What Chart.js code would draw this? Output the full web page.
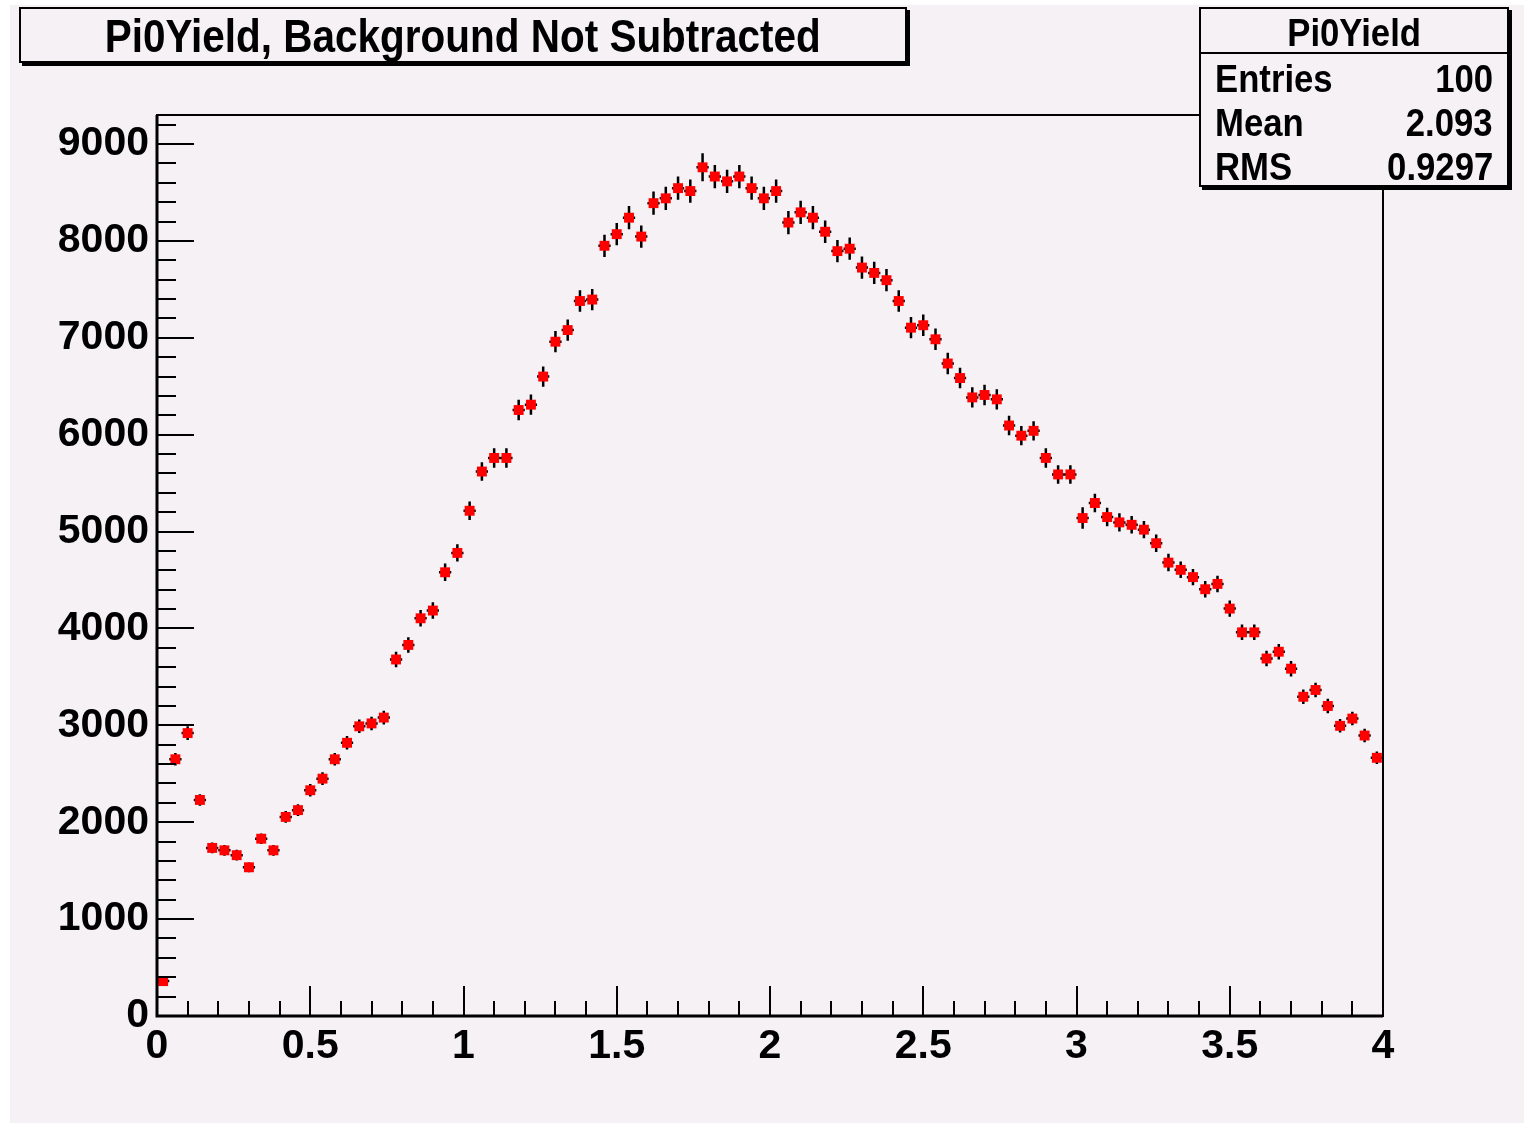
<!DOCTYPE html>
<html>
<head>
<meta charset="utf-8">
<script src="https://cdn.jsdelivr.net/npm/chart.js@4.4.1/dist/chart.umd.min.js"></script>
<style>
  body { margin: 0; background: #fff; font-family: "Liberation Sans", Arial, sans-serif; }
  #pad { position: absolute; left: 10px; top: 5px; width: 1514px; height: 1118px; background: #f5f1f5; }
  #title {
    position: absolute; left: 19px; top: 7px; width: 884px; height: 52px;
    border: 2px solid #000; box-shadow: 3px 3px 0 #000; background: #f5f1f5;
    font-weight: bold; font-size: 46px; line-height: 54px; text-align: center; white-space: nowrap;
  }
  #title span { display: inline-block; transform: scaleX(0.88); }
  #stats {
    position: absolute; left: 1199px; top: 7px; width: 306px; height: 176px;
    border: 2px solid #000; box-shadow: 3px 3px 0 #000; background: #f5f1f5;
    font-weight: bold; font-size: 39px;
  }
  #stats .head { height: 43px; line-height: 48px; text-align: center; border-bottom: 2px solid #000; }
  #stats .head span { display: inline-block; transform: scaleX(0.89); }
  #stats .row { height: 44px; line-height: 50px; padding: 0 14px; display: flex; justify-content: space-between; }
  #stats .row span { display: inline-block; transform: scaleX(0.89); transform-origin: left center; }
  #stats .row span + span { transform-origin: right center; }
</style>
</head>
<body>
<div id="pad"><canvas id="chart"></canvas></div>
<div id="title"><span>Pi0Yield, Background Not Subtracted</span></div>
<div id="stats">
  <div class="head"><span>Pi0Yield</span></div>
  <div class="row"><span>Entries</span><span>100</span></div>
  <div class="row"><span>Mean</span><span>2.093</span></div>
  <div class="row"><span>RMS</span><span>0.9297</span></div>
</div>
<script>
// histogram binning: 100 bins from 0 to 4
const xLow = 0;
const xHigh = 4;
const nBins = 100;

// bin contents
const counts = [
  360, 2650, 2920, 2230, 1735, 1710, 1660, 1535, 1830, 1710,
  2055, 2125, 2330, 2450, 2650, 2820, 2990, 3020, 3080, 3680,
  3830, 4105, 4185, 4580, 4780, 5215, 5620, 5760, 5760, 6255,
  6310, 6600, 6960, 7080, 7380, 7395, 7950, 8070, 8240, 8045,
  8390, 8440, 8545, 8515, 8760, 8665, 8615, 8665, 8545, 8440,
  8515, 8190, 8295, 8240, 8095, 7895, 7920, 7725, 7670, 7595,
  7380, 7105, 7130, 6985, 6735, 6585, 6385, 6410, 6365, 6095,
  5990, 6040, 5760, 5590, 5590, 5140, 5295, 5150, 5095, 5070,
  5020, 4880, 4680, 4605, 4530, 4405, 4460, 4205, 3960, 3960,
  3690, 3760, 3585, 3295, 3365, 3200, 2995, 3070, 2895, 2665
];

// vertical error bars
const errors = [
  25, 65, 70, 60, 55, 55, 55, 50, 55, 55,
  60, 60, 65, 65, 65, 70, 70, 70, 70, 80,
  80, 85, 85, 90, 90, 95, 95, 100, 100, 105,
  105, 105, 110, 110, 110, 110, 115, 115, 120, 115,
  120, 120, 120, 120, 145, 120, 120, 120, 120, 120,
  120, 120, 120, 120, 115, 115, 115, 115, 115, 115,
  110, 110, 110, 110, 110, 105, 105, 105, 105, 100,
  100, 100, 100, 95, 95, 110, 95, 95, 95, 90,
  90, 90, 90, 85, 85, 85, 85, 85, 80, 80,
  80, 80, 80, 75, 75, 75, 70, 70, 70, 65
];

const xTickValues = [0, 0.5, 1, 1.5, 2, 2.5, 3, 3.5, 4];
const xTickLabels = ["0", "0.5", "1", "1.5", "2", "2.5", "3", "3.5", "4"];
const yTickValues = [0, 1000, 2000, 3000, 4000, 5000, 6000, 7000, 8000, 9000];
const yTickLabels = ["0", "1000", "2000", "3000", "4000", "5000", "6000", "7000", "8000", "9000"];
const yMax = 9300;

const binWidth = (xHigh - xLow) / nBins;
const points = counts.map((c, i) => ({ x: xLow + (i + 0.5) * binWidth, y: c, e: errors[i] }));

// ROOT-like frame with ticks pointing inward
const frame = {
  id: "frame",
  afterDraw(chart) {
    const { ctx, chartArea: a, scales } = chart;
    const xs = scales.x, ys = scales.y;
    ctx.save();
    ctx.strokeStyle = "#000";
    ctx.lineWidth = 2;
    ctx.strokeRect(a.left, a.top, a.right - a.left, a.bottom - a.top);
    ctx.lineWidth = 3;
    ctx.beginPath();
    ctx.moveTo(a.left, a.top);
    ctx.lineTo(a.left, a.bottom);
    ctx.lineTo(a.right, a.bottom);
    ctx.stroke();

    ctx.lineWidth = 2;
    ctx.beginPath();
    for (let v = 0; v <= yMax; v += 200) {
      const y = Math.round(ys.getPixelForValue(v));
      const len = v % 1000 === 0 ? 37 : 19;
      ctx.moveTo(a.left, y);
      ctx.lineTo(a.left + len, y);
    }
    for (let k = 0; k <= 40; k++) {
      const x = Math.round(xs.getPixelForValue(k / 10));
      const len = k % 5 === 0 ? 30 : 15;
      ctx.moveTo(x, a.bottom);
      ctx.lineTo(x, a.bottom - len);
    }
    ctx.stroke();
    ctx.restore();
  }
};

const errorBars = {
  id: "errorBars",
  beforeDatasetsDraw(chart) {
    const { ctx, scales } = chart;
    const xs = scales.x, ys = scales.y;
    ctx.save();
    ctx.strokeStyle = "#000";
    ctx.lineWidth = 2.5;
    ctx.beginPath();
    points.forEach(p => {
      const px = xs.getPixelForValue(p.x);
      const py = ys.getPixelForValue(p.y);
      ctx.moveTo(xs.getPixelForValue(p.x - binWidth / 2), py);
      ctx.lineTo(xs.getPixelForValue(p.x + binWidth / 2), py);
      ctx.moveTo(px, ys.getPixelForValue(p.y - p.e));
      ctx.lineTo(px, ys.getPixelForValue(p.y + p.e));
    });
    ctx.stroke();
    ctx.restore();
  }
};

const tickFont = { family: "'Liberation Sans', Arial, sans-serif", size: 41, weight: "bold" };

new Chart(document.getElementById("chart"), {
  type: "scatter",
  data: {
    datasets: [{
      label: "Pi0Yield",
      data: points,
      pointStyle: "rect",
      pointRadius: 7,
      pointHoverRadius: 7,
      backgroundColor: "#ff0000",
      borderWidth: 0
    }]
  },
  options: {
    responsive: true,
    maintainAspectRatio: false,
    animation: false,
    events: [],
    layout: { padding: { top: 110, right: 141, bottom: 45, left: 0 } },
    plugins: { legend: { display: false }, tooltip: { enabled: false } },
    scales: {
      x: {
        type: "linear",
        min: xLow,
        max: xHigh,
        grid: { display: false, drawTicks: false },
        border: { display: false },
        afterBuildTicks: s => { s.ticks = xTickValues.map(v => ({ value: v })); },
        ticks: {
          padding: 6,
          color: "#000",
          font: tickFont,
          maxRotation: 0,
          autoSkip: false,
          callback: (v, i) => xTickLabels[i]
        },
        afterFit: s => { s.height = 62; }
      },
      y: {
        type: "linear",
        min: 0,
        max: yMax,
        grid: { display: false, drawTicks: false },
        border: { display: false },
        afterBuildTicks: s => { s.ticks = yTickValues.map(v => ({ value: v })); },
        ticks: {
          padding: 8,
          color: "#000",
          font: tickFont,
          autoSkip: false,
          callback: (v, i) => yTickLabels[i]
        },
        afterFit: s => { s.width = 147; }
      }
    }
  },
  plugins: [errorBars, frame]
});
</script>
</body>
</html>
